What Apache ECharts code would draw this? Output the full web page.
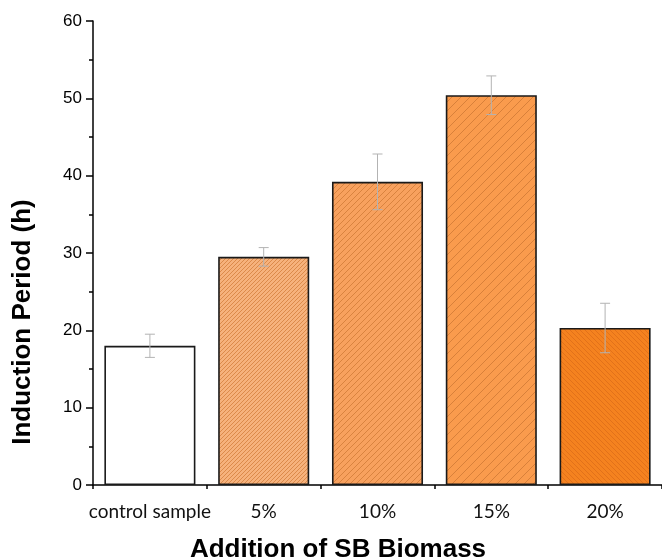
<!DOCTYPE html>
<html>
<head>
<meta charset="utf-8">
<script src="https://cdn.jsdelivr.net/npm/echarts@6/dist/echarts.min.js"></script>
<style>html,body{margin:0;padding:0;background:#fff}#c{width:662px;height:558px}</style>
</head>
<body>
<div id="c"></div>
<script>
var categories = ['control sample', '5%', '10%', '15%', '20%'];
var values = [18.0, 29.5, 39.2, 50.4, 20.3];
var errors = [1.5, 1.2, 3.6, 2.5, 3.2];
var yTicks = [0, 10, 20, 30, 40, 50, 60];

function hatch(p, bg, fg, lw, dir) {
  var c = document.createElement('canvas');
  c.width = p; c.height = p;
  var g = c.getContext('2d');
  g.fillStyle = bg; g.fillRect(0, 0, p, p);
  g.strokeStyle = fg; g.lineWidth = lw;
  g.beginPath();
  if (dir === '/') {
    for (var k = -1; k <= 1; k++) {
      g.moveTo(-1 + k * p, p + 1); g.lineTo(p + 1 + k * p, -1);
    }
  } else {
    for (var k = -1; k <= 1; k++) {
      g.moveTo(-1 + k * p, -1); g.lineTo(p + 1 + k * p, p + 1);
    }
  }
  g.stroke();
  return { image: c, repeat: 'repeat' };
}

var fills = [
  '#ffffff',
  hatch(4, '#F6B27C', '#DB8A4A', 1.0, '/'),
  hatch(6, '#F8A15E', '#D9833F', 1.0, '/'),
  hatch(9, '#FA9B4D', '#D8803A', 1.0, '/'),
  hatch(5, '#F5821F', '#E2711A', 1.0, '\\')
];

var chart = echarts.init(document.getElementById('c'), null, { renderer: 'canvas' });
var barData = values.map(function (v, i) {
  return { value: v, itemStyle: { color: fills[i] } };
});
var errData = values.map(function (v, i) { return [i, v - errors[i], v + errors[i]]; });

chart.setOption({
  animation: false,
  backgroundColor: '#fff',
  grid: { left: 93, right: -5, top: 21, bottom: 73, containLabel: false },
  xAxis: [{
    type: 'category', data: categories,
    axisLine: { lineStyle: { color: '#000', width: 1.5 } },
    axisTick: { alignWithLabel: true, length: 7, lineStyle: { color: '#000', width: 1.5 } },
    axisLabel: { interval: 0, color: '#111', fontFamily: 'Lato', fontSize: 19, margin: 17 }
  }, {
    type: 'category', data: categories, position: 'bottom',
    axisLine: { show: false },
    axisTick: { show: true, length: 4, lineStyle: { color: '#000', width: 1.5 } },
    axisLabel: { show: false }
  }],
  yAxis: {
    type: 'value', min: 0, max: 60, interval: 10,
    axisLine: { show: true, lineStyle: { color: '#000', width: 1.5 } },
    axisTick: { show: true, length: 7, lineStyle: { color: '#000', width: 1.5 } },
    minorTick: { show: true, splitNumber: 2, length: 4, lineStyle: { color: '#000', width: 1.5 } },
    splitLine: { show: false },
    axisLabel: { color: '#000', fontFamily: 'Liberation Sans', fontSize: 17, margin: 11,
      formatter: function (v) { return yTicks.indexOf(v) >= 0 ? String(v) : ''; } }
  },
  series: [{
    type: 'bar', data: barData, barCategoryGap: '20%', xAxisIndex: 0,
    itemStyle: { borderColor: '#1a1a1a', borderWidth: 1.6 }
  }, {
    type: 'custom', data: errData, xAxisIndex: 0, z: 10,
    encode: { x: 0, y: [1, 2] },
    renderItem: function (params, api) {
      var x = api.value(0);
      var lo = api.coord([x, api.value(1)]);
      var hi = api.coord([x, api.value(2)]);
      var w = 5;
      var st = { stroke: '#b3b3b3', lineWidth: 1 };
      return { type: 'group', children: [
        { type: 'line', shape: { x1: lo[0], y1: lo[1], x2: hi[0], y2: hi[1] }, style: st },
        { type: 'line', shape: { x1: hi[0] - w, y1: hi[1], x2: hi[0] + w, y2: hi[1] }, style: st },
        { type: 'line', shape: { x1: lo[0] - w, y1: lo[1], x2: lo[0] + w, y2: lo[1] }, style: st }
      ] };
    }
  }],
  graphic: [{
    type: 'text', x: 23, y: 322, rotation: Math.PI / 2,
    style: { text: 'Induction Period (h)', font: 'bold 26px "Liberation Sans"', fill: '#000',
      align: 'center', verticalAlign: 'middle' }
  }, {
    type: 'text', x: 338, y: 550,
    style: { text: 'Addition of SB Biomass', font: 'bold 26px "Liberation Sans"', fill: '#000',
      align: 'center', verticalAlign: 'middle' }
  }]
});
</script>
</body>
</html>
